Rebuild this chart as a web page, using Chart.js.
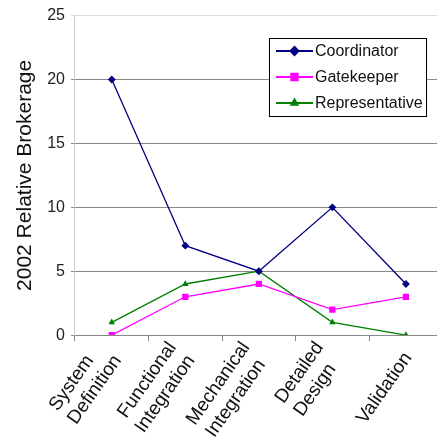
<!DOCTYPE html>
<html>
<head>
<meta charset="utf-8">
<script src="https://cdn.jsdelivr.net/npm/chart.js@4"></script>
<style>
  html, body { margin: 0; padding: 0; background: #fff; overflow: hidden; }
  #wrap { width: 448px; height: 446px; }
</style>
</head>
<body>
<div id="wrap"><canvas id="chart" width="448" height="446"></canvas></div>
<script>
// phases along the x axis
const phases = [
    ['System', 'Definition'],
    ['Functional', 'Integration'],
    ['Mechanical', 'Integration'],
    ['Detailed', 'Design'],
    ['Validation']
];

// brokerage per role
const coordinator = [20, 7, 5, 10, 4];
const gatekeeper = [0, 3, 4, 2, 3];
const representative = [1, 4, 5, 1, 0];

const yTicks = [0, 5, 10, 15, 20, 25];

const FONT = "'Liberation Sans', Arial, sans-serif";
const X_FONT_SIZE = 19;

// rotated labels are right aligned by chart.js, the original is left aligned,
// so pad the shorter lines with spaces up to the longest one
const measure = document.createElement('canvas').getContext('2d');
measure.font = X_FONT_SIZE + 'px ' + FONT;
function leftAlign(lines) {
    if (!Array.isArray(lines)) return lines;
    const widths = lines.map(l => measure.measureText(l).width);
    const longest = Math.max(...widths);
    const space = measure.measureText('\u00a0').width;
    return lines.map((l, i) => l + '\u00a0'.repeat(Math.round((longest - widths[i]) / space)));
}

// move the multi line labels up so the last line sits near the tick, and push them a bit lower
const centerLabels = {
    id: 'centerLabels',
    beforeDraw(chart) {
        chart.scales.x.getLabelItems().forEach(item => {
            if (item._moved) return;
            const n = Array.isArray(item.label) ? item.label.length : 1;
            item.textOffset -= (n - 1) * item.font.lineHeight * 0.8;
            item.options.translation[0] += 2;
            item.options.translation[1] += 7;
            item._moved = true;
        });
    }
};

// draws the boxed legend inside the plot, top right
const boxLegend = {
    id: 'boxLegend',
    afterDraw(chart) {
        const ctx = chart.ctx;
        const x0 = 269.5, y0 = 38.5, w = 157, h = 78;
        ctx.save();
        ctx.fillStyle = '#fff';
        ctx.fillRect(x0, y0, w, h);
        ctx.strokeStyle = '#000';
        ctx.lineWidth = 1;
        ctx.strokeRect(x0, y0, w, h);
        ctx.font = '16px ' + FONT;
        ctx.textBaseline = 'middle';
        chart.data.datasets.forEach((ds, i) => {
            const y = 51 + i * 26;
            ctx.strokeStyle = ds.borderColor;
            ctx.lineWidth = 2;
            ctx.beginPath();
            ctx.moveTo(276, y);
            ctx.lineTo(313, y);
            ctx.stroke();
            Chart.helpers.drawPoint(ctx, {
                pointStyle: ds.pointStyle,
                radius: ds.pointRadius + 1,
                borderWidth: 1
            }, 294.5, y);
            ctx.fillStyle = ds.borderColor;
            ctx.fill();
            ctx.fillStyle = '#111';
            ctx.fillText(ds.label, 315, y + 1);
        });
        ctx.restore();
    }
};

new Chart(document.querySelector('#chart').getContext('2d'), {
    type: 'line',
    data: {
        labels: phases,
        datasets: [
            {
                label: 'Coordinator',
                data: coordinator,
                borderColor: '#000080',
                backgroundColor: '#000080',
                pointStyle: 'rectRot',
                pointRadius: 3,
                borderWidth: 1.3
            },
            {
                label: 'Gatekeeper',
                data: gatekeeper,
                borderColor: '#ff00ff',
                backgroundColor: '#ff00ff',
                pointStyle: 'rect',
                pointRadius: 3.5,
                borderWidth: 1.3
            },
            {
                label: 'Representative',
                data: representative,
                borderColor: '#008000',
                backgroundColor: '#008000',
                pointStyle: 'triangle',
                pointRadius: 2.5,
                borderWidth: 1.3
            }
        ]
    },
    options: {
        responsive: false,
        animation: false,
        layout: { padding: { top: 11, right: 0, left: 10, bottom: 0 } },
        plugins: {
            legend: { display: false },
            tooltip: { enabled: false }
        },
        scales: {
            x: {
                offset: true,
                grid: {
                    offset: true,
                    drawOnChartArea: false,
                    drawTicks: true,
                    tickLength: 6,
                    color: '#888'
                },
                border: { color: '#888' },
                ticks: {
                    minRotation: 55,
                    maxRotation: 55,
                    color: '#111',
                    padding: 0,
                    callback: function (value) { return leftAlign(this.getLabelForValue(value)); },
                    font: { family: FONT, size: X_FONT_SIZE, lineHeight: 1.2 }
                }
            },
            y: {
                min: 0,
                max: 25,
                afterBuildTicks: axis => { axis.ticks = yTicks.map(v => ({ value: v })); },
                grid: {
                    color: ctx => (ctx.tick && ctx.tick.value === 25) ? '#ddd' : '#888',
                    tickLength: 4
                },
                border: { color: '#ccc' },
                ticks: {
                    color: '#222',
                    padding: 6,
                    font: { family: FONT, size: 16 }
                },
                title: {
                    display: true,
                    text: '2002 Relative Brokerage',
                    color: '#111',
                    padding: { top: 3, bottom: 3 },
                    font: { family: FONT, size: 21 }
                }
            }
        }
    },
    plugins: [centerLabels, boxLegend]
});
</script>
</body>
</html>
